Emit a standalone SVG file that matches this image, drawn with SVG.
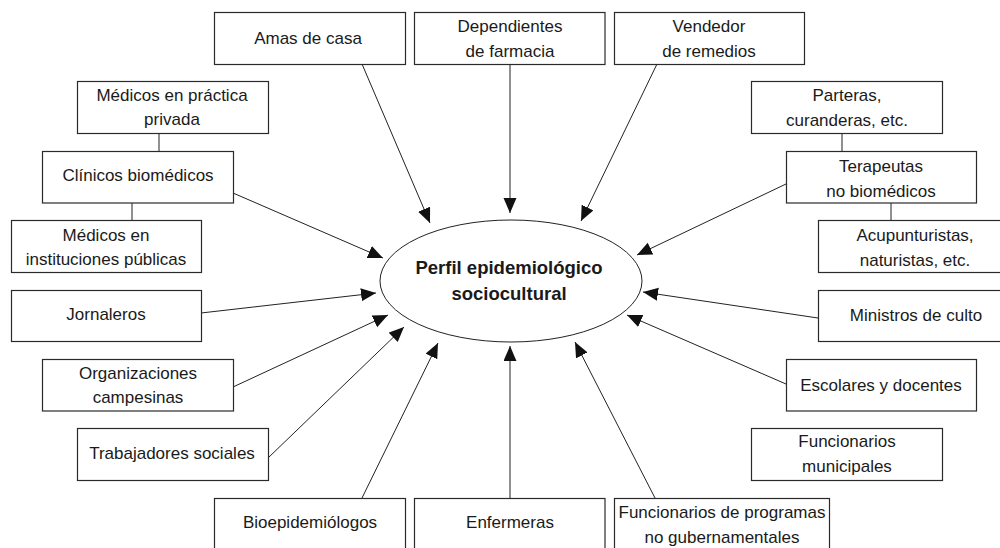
<svg xmlns="http://www.w3.org/2000/svg" width="1000" height="548" viewBox="0 0 1000 548">
<style>
.box{fill:#fff;stroke:#2a2a2a;stroke-width:1.2}
.t{font-family:"Liberation Sans",Arial,sans-serif;font-size:17px;fill:#1a1a1a;text-anchor:middle}
.b{font-family:"Liberation Sans",Arial,sans-serif;font-size:18.5px;font-weight:bold;fill:#1a1a1a;text-anchor:middle}
.c{stroke:#222;stroke-width:1;fill:none}
.a{marker-end:url(#arr)}
</style>
<defs>
<marker id="arr" markerUnits="userSpaceOnUse" markerWidth="17" markerHeight="14" refX="15" refY="6.5" orient="auto">
<path d="M0,0 L15,6.5 L0,13 z" fill="#111"/>
</marker>
</defs>
<rect width="1000" height="548" fill="#fff"/>
<g id="connectors">
<line class="c a" x1="362" y1="64" x2="430" y2="223"/>
<line class="c a" x1="510" y1="64" x2="510" y2="213"/>
<line class="c a" x1="657" y1="64" x2="581" y2="221"/>
<line class="c a" x1="233" y1="193" x2="383" y2="258"/>
<line class="c a" x1="786" y1="184" x2="637" y2="255"/>
<line class="c a" x1="201" y1="313" x2="376" y2="293"/>
<line class="c a" x1="818" y1="318" x2="643" y2="292"/>
<line class="c a" x1="233" y1="387" x2="388" y2="315"/>
<line class="c a" x1="786" y1="384" x2="627" y2="315"/>
<line class="c a" x1="268" y1="458" x2="404" y2="327"/>
<line class="c a" x1="362" y1="498" x2="438" y2="343"/>
<line class="c a" x1="510" y1="498" x2="510" y2="346"/>
<line class="c a" x1="655" y1="498" x2="575" y2="342"/>
<line class="c" x1="159" y1="134" x2="159" y2="151"/>
<line class="c" x1="132" y1="203" x2="132" y2="220"/>
<line class="c" x1="842" y1="134" x2="842" y2="151"/>
<line class="c" x1="891" y1="203" x2="891" y2="220"/>
</g>
<g id="center">
<ellipse cx="511" cy="281" rx="131" ry="61" fill="#fff" stroke="#222" stroke-width="1"/>
<text class="b" x="509" y="274">Perfil epidemiológico</text>
<text class="b" x="509" y="300">sociocultural</text>
</g>
<g id="amas"><rect class="box" x="214.5" y="12.5" width="191" height="52"/><text class="t" x="308" y="44">Amas de casa</text></g>
<g id="dependientes"><rect class="box" x="414.5" y="12.5" width="190.5" height="52"/><text class="t" x="510" y="32">Dependientes</text><text class="t" x="510" y="57">de farmacia</text></g>
<g id="vendedor"><rect class="box" x="614.5" y="12.5" width="190" height="52"/><text class="t" x="709" y="32">Vendedor</text><text class="t" x="709" y="57">de remedios</text></g>
<g id="medpriv"><rect class="box" x="77.5" y="81.5" width="191" height="52"/><text class="t" x="172" y="101">Médicos en práctica</text><text class="t" x="172" y="125">privada</text></g>
<g id="clinicos"><rect class="box" x="42.5" y="151.5" width="191" height="51.5"/><text class="t" x="138" y="181">Clínicos biomédicos</text></g>
<g id="medinst"><rect class="box" x="11.5" y="220.5" width="190" height="52"/><text class="t" x="106" y="241">Médicos en</text><text class="t" x="106" y="265">instituciones públicas</text></g>
<g id="jornaleros"><rect class="box" x="11.5" y="290.5" width="190" height="51"/><text class="t" x="106" y="320">Jornaleros</text></g>
<g id="organizaciones"><rect class="box" x="42.5" y="359.5" width="191" height="51.5"/><text class="t" x="138" y="379">Organizaciones</text><text class="t" x="138" y="403">campesinas</text></g>
<g id="trabajadores"><rect class="box" x="77.5" y="428.5" width="191" height="52"/><text class="t" x="172" y="459">Trabajadores sociales</text></g>
<g id="bioepidemiologos"><rect class="box" x="214.5" y="498.5" width="191" height="54"/><text class="t" x="310" y="528">Bioepidemiólogos</text></g>
<g id="enfermeras"><rect class="box" x="414.5" y="498.5" width="190.5" height="54"/><text class="t" x="510" y="528">Enfermeras</text></g>
<g id="funcprog"><rect class="box" x="614.5" y="498.5" width="215" height="54"/><text class="t" x="722" y="518">Funcionarios de programas</text><text class="t" x="722" y="543">no gubernamentales</text></g>
<g id="parteras"><rect class="box" x="751.5" y="81.5" width="191" height="52"/><text class="t" x="847" y="101">Parteras,</text><text class="t" x="847" y="126">curanderas, etc.</text></g>
<g id="terapeutas"><rect class="box" x="786.5" y="151.5" width="190" height="51.5"/><text class="t" x="881" y="172">Terapeutas</text><text class="t" x="881" y="197">no biomédicos</text></g>
<g id="acupunturistas"><rect class="box" x="818.5" y="220.5" width="191" height="52"/><text class="t" x="915" y="241">Acupunturistas,</text><text class="t" x="915" y="266">naturistas, etc.</text></g>
<g id="ministros"><rect class="box" x="818.5" y="290.5" width="191" height="51"/><text class="t" x="916" y="321">Ministros de culto</text></g>
<g id="escolares"><rect class="box" x="786.5" y="359.5" width="190" height="51.5"/><text class="t" x="881" y="391">Escolares y docentes</text></g>
<g id="funcmun"><rect class="box" x="751.5" y="428.5" width="191" height="52"/><text class="t" x="847" y="447">Funcionarios</text><text class="t" x="847" y="472">municipales</text></g>
</svg>
